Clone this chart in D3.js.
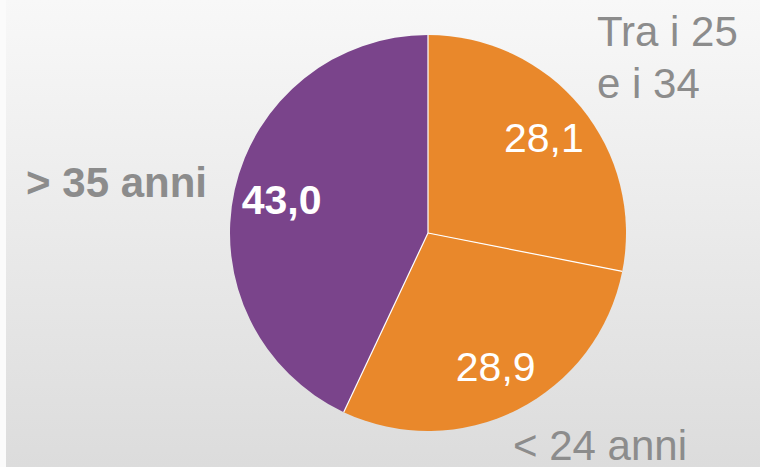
<!DOCTYPE html>
<html lang="it">
<head>
<meta charset="UTF-8">
<style>
  body { margin: 0; background: #fff; }
  svg { display: block; font-family: "Liberation Sans", Arial, sans-serif; }
</style>
</head>
<body>
<script src="https://cdnjs.cloudflare.com/ajax/libs/d3/7.8.5/d3.min.js"></script>
<script>
// dati
var categories = ["Tra i 25 e i 34", "< 24 anni", "> 35 anni"];
var values = [28.1, 28.9, 43.0];
var valueLabels = ["28,1", "28,9", "43,0"];
var colors = ["#e9882b", "#e9882b", "#7a448b"];

var width = 760, height = 467;
var cx = 428, cy = 233, radius = 198;

var svg = d3.select("body").append("svg")
    .attr("width", width)
    .attr("height", height);

// sfondo sfumato
var grad = svg.append("defs").append("linearGradient")
    .attr("id", "bg").attr("x1", 0).attr("y1", 0).attr("x2", 0).attr("y2", 1);
grad.append("stop").attr("offset", "0%").attr("stop-color", "#f8f8f8");
grad.append("stop").attr("offset", "100%").attr("stop-color", "#dcdcdc");

svg.append("rect").attr("width", width).attr("height", height).attr("fill", "#fbfbfb");
svg.append("rect").attr("x", 6).attr("width", width - 6).attr("height", height).attr("fill", "url(#bg)");

var pie = d3.pie().sort(null).value(function(d) { return d; });
var arcs = pie(values);
var arc = d3.arc().innerRadius(0).outerRadius(radius);
var labelArc = d3.arc().innerRadius(150).outerRadius(150);

var g = svg.append("g").attr("transform", "translate(" + cx + "," + cy + ")");

g.selectAll("path.slice")
    .data(arcs)
    .enter().append("path")
    .attr("class", "slice")
    .attr("d", arc)
    .attr("fill", function(d, i) { return colors[i]; });

// linee bianche tra le fette
g.selectAll("line.sep")
    .data(arcs)
    .enter().append("line")
    .attr("x1", 0).attr("y1", 0)
    .attr("x2", function(d) { return radius * Math.sin(d.startAngle); })
    .attr("y2", function(d) { return -radius * Math.cos(d.startAngle); })
    .attr("stroke", "#fff")
    .attr("stroke-width", 1.2);

// valori dentro le fette
g.selectAll("text.val")
    .data(arcs)
    .enter().append("text")
    .attr("class", "val")
    .attr("transform", function(d) {
        var c = labelArc.centroid(d);
        return "translate(" + c[0] + "," + (c[1] + 14) + ")";
    })
    .attr("text-anchor", "middle")
    .attr("fill", "#fff")
    .attr("font-size", 41)
    .attr("font-weight", function(d, i) { return i === 2 ? "bold" : "normal"; })
    .text(function(d, i) { return valueLabels[i]; });

// etichette delle categorie (posizionate a mano come nell'originale)
var catLayout = [
    { x: 597, y: 46, anchor: "start", lines: ["Tra i 25", "e i 34"], bold: false },
    { x: 513, y: 460, anchor: "start", lines: ["< 24 anni"], bold: false },
    { x: 207, y: 197, anchor: "end", lines: ["> 35 anni"], bold: true }
];

catLayout.forEach(function(l) {
    var t = svg.append("text")
        .attr("x", l.x).attr("y", l.y)
        .attr("text-anchor", l.anchor)
        .attr("fill", "#8c8c8c")
        .attr("font-size", 42)
        .attr("font-weight", l.bold ? "bold" : "normal");
    l.lines.forEach(function(s, k) {
        t.append("tspan").attr("x", l.x).attr("dy", k === 0 ? 0 : 52).text(s);
    });
});
</script>
</body>
</html>
